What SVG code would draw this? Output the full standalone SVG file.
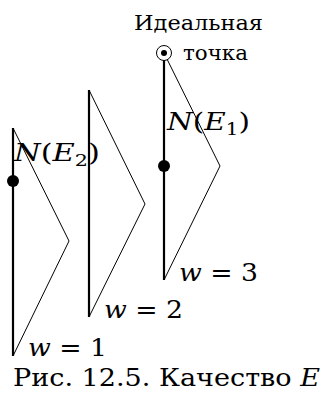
<svg xmlns="http://www.w3.org/2000/svg" width="325" height="396" viewBox="0 0 325 396">
<style>
.axis{stroke:#000;stroke-width:2.2;fill:none}
.thin{stroke:#000;stroke-width:1;fill:none}
.t{font-family:"DejaVu Serif","Liberation Serif",serif;fill:#000}
.m{font-family:"DejaVu Serif","Liberation Serif",serif;font-style:italic;fill:#000}
.r{font-style:normal}
</style>
<rect width="325" height="396" fill="#fff"/>
<g id="connectors">
<polyline class="thin" points="13,128 69,241 13,356"/>
<polyline class="thin" points="89,90 145,204 89,317"/>
<polyline class="thin" points="164,53 220,166 164,280"/>
</g>
<g id="node-w1">
<line class="axis" x1="13" y1="128" x2="13" y2="356"/>
<circle cx="13" cy="181" r="6" fill="#000"/>
<text class="m" x="14" y="161" font-size="25" textLength="86" lengthAdjust="spacingAndGlyphs">N<tspan class="r">(</tspan>E<tspan font-size="17" dy="5" class="r">2</tspan><tspan class="r" dy="-5">)</tspan></text>
<text class="m" x="28" y="356" font-size="25" textLength="79" lengthAdjust="spacingAndGlyphs">w <tspan class="r">= 1</tspan></text>
</g>
<g id="node-w2">
<line class="axis" x1="89" y1="90" x2="89" y2="317"/>
<text class="m" x="104" y="318" font-size="25" textLength="79" lengthAdjust="spacingAndGlyphs">w <tspan class="r">= 2</tspan></text>
</g>
<g id="node-w3">
<line class="axis" x1="164" y1="53" x2="164" y2="280"/>
<circle cx="164" cy="166" r="6" fill="#000"/>
<text class="m" x="167" y="130" font-size="25" textLength="83" lengthAdjust="spacingAndGlyphs">N<tspan class="r">(</tspan>E<tspan font-size="17" dy="5" class="r">1</tspan><tspan class="r" dy="-5">)</tspan></text>
<text class="m" x="179" y="281" font-size="25" textLength="79" lengthAdjust="spacingAndGlyphs">w <tspan class="r">= 3</tspan></text>
</g>
<g id="ideal">
<circle cx="164" cy="53" r="7.5" fill="#fff" stroke="#000" stroke-width="1"/>
<circle cx="164" cy="53" r="3" fill="#000"/>
<text class="t" x="134" y="30" font-size="21" textLength="129" lengthAdjust="spacingAndGlyphs">Идеальная</text>
<text class="t" x="183" y="60" font-size="21" textLength="65" lengthAdjust="spacingAndGlyphs">точка</text>
</g>
<g id="caption">
<text class="t" x="13" y="386" font-size="25" textLength="307" lengthAdjust="spacingAndGlyphs">Рис. 12.5. Качество <tspan font-style="italic">E</tspan></text>
</g>
</svg>
